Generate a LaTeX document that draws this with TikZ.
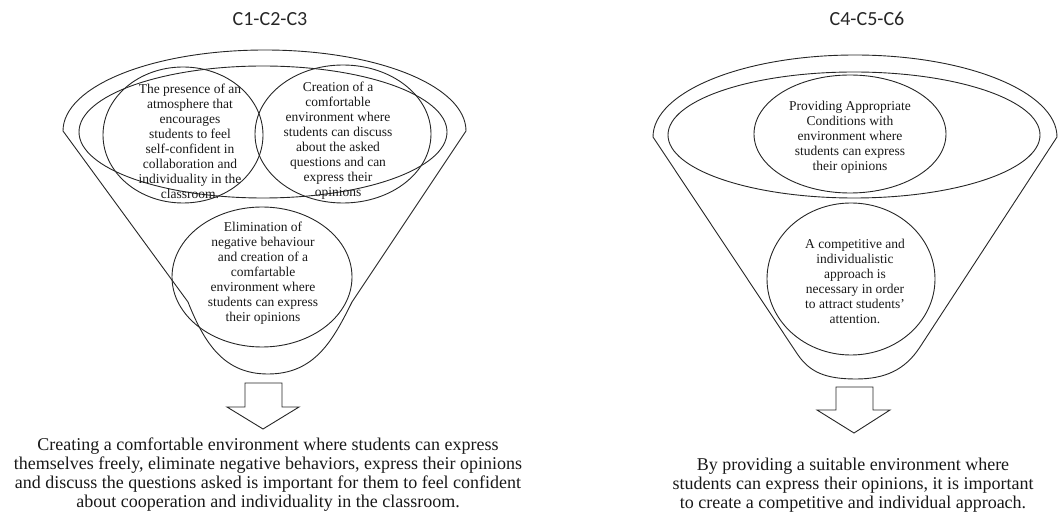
\documentclass[tikz,border=0pt]{standalone}
\usepackage{fontspec}
\setmainfont{Liberation Serif}
\newfontfamily\titlefont{Carlito}
\usetikzlibrary{shapes.geometric}
\begin{document}
\begin{tikzpicture}[x=1pt,y=-1pt,
  shapeline/.style={draw=black!85, line width=0.9pt, line join=round},
  ring/.style={ellipse, draw=black!85, line width=0.9pt, inner sep=0pt},
  ctext/.style={font=\fontsize{13.5}{15}\selectfont, align=center, inner sep=0pt, text=black!90},
  btext/.style={font=\fontsize{18}{19}\selectfont, align=center, inner sep=0pt, text=black!90},
  ttext/.style={font=\titlefont\fontsize{20}{24}\selectfont, inner sep=0pt, text=black!85},
  blockarrow/.style={draw=black!85, line width=0.9pt, line join=miter}
]
\useasboundingbox (0,0) rectangle (1058,518);

% titles
\node[ttext] (t1) at (270,19) {C1-C2-C3};
\node[ttext] (t2) at (867,19) {C4-C5-C6};

% ---------- left funnel ----------
\draw[shapeline] (63,131) .. controls (63,86) and (153,50) .. (265,50)
  .. controls (377,50) and (466,86) .. (466,131) -- (352,302)
  .. controls (333,340) and (315,374) .. (268,374)
  .. controls (225,374) and (205,345) .. (188,302) -- cycle;
\node[ring, minimum width=368pt, minimum height=132pt] (e1) at (263,132) {};
\node[ring, minimum width=160pt, minimum height=136pt] (c1) at (183,135) {};
\node[ring, minimum width=176pt, minimum height=138pt] (c2) at (343,134) {};
\node[ring, minimum width=180pt, minimum height=140pt] (c3) at (262,277) {};

\node[ctext] (c1t) at (190,141) {The presence of an\\ atmosphere that\\ encourages\\ students to feel\\ self-confident in\\ collaboration and\\ individuality in the\\ classroom.};
\node[ctext] (c2t) at (338,141) {Creation of a\\ comfortable\\ environment where\\ students can discuss\\ about the asked\\ questions and can\\ express their\\ opinions};
\node[ctext] (c3t) at (263,273) {Elimination of\\ negative behaviour\\ and creation of a\\ comfartable\\ environment where\\ students can express\\ their opinions};

\draw[blockarrow] (245,383) -- (282,383) -- (282,407) -- (299,407) -- (263,429)
  -- (227,407) -- (245,407) -- cycle;

\node[btext] (b1) at (268,475) {Creating a comfortable environment where students can express\\ themselves freely, eliminate negative behaviors, express their opinions\\ and discuss the questions asked is important for them to feel confident\\ about cooperation and individuality in the classroom.};

% ---------- right funnel ----------
\draw[shapeline] (653,137) .. controls (653,92) and (743,55) .. (855,55)
  .. controls (967,55) and (1057,92) .. (1057,137) -- (920,347)
  .. controls (905,370) and (885,379) .. (856,379)
  .. controls (825,379) and (810,372) .. (798,355) -- cycle;
\node[ring, minimum width=372pt, minimum height=126pt] (e2) at (854,135) {};
\node[ring, minimum width=192pt, minimum height=118pt] (c4) at (850,134) {};
\node[ring, minimum width=168pt, minimum height=152pt] (c5) at (851,279) {};

\node[ctext] (c4t) at (850,137) {Providing Appropriate\\ Conditions with\\ environment where\\ students can express\\ their opinions};
\node[ctext] (c5t) at (855,281) {A competitive and\\ individualistic\\ approach is\\ necessary in order\\ to attract students'\\ attention.};

\draw[blockarrow] (836,387) -- (873,387) -- (873,410) -- (890,410) -- (854,433)
  -- (817,410) -- (836,410) -- cycle;

\node[btext] (b2) at (853,485) {By providing a suitable environment where\\ students can express their opinions, it is important\\ to create a competitive and individual approach.};
\end{tikzpicture}
\end{document}
